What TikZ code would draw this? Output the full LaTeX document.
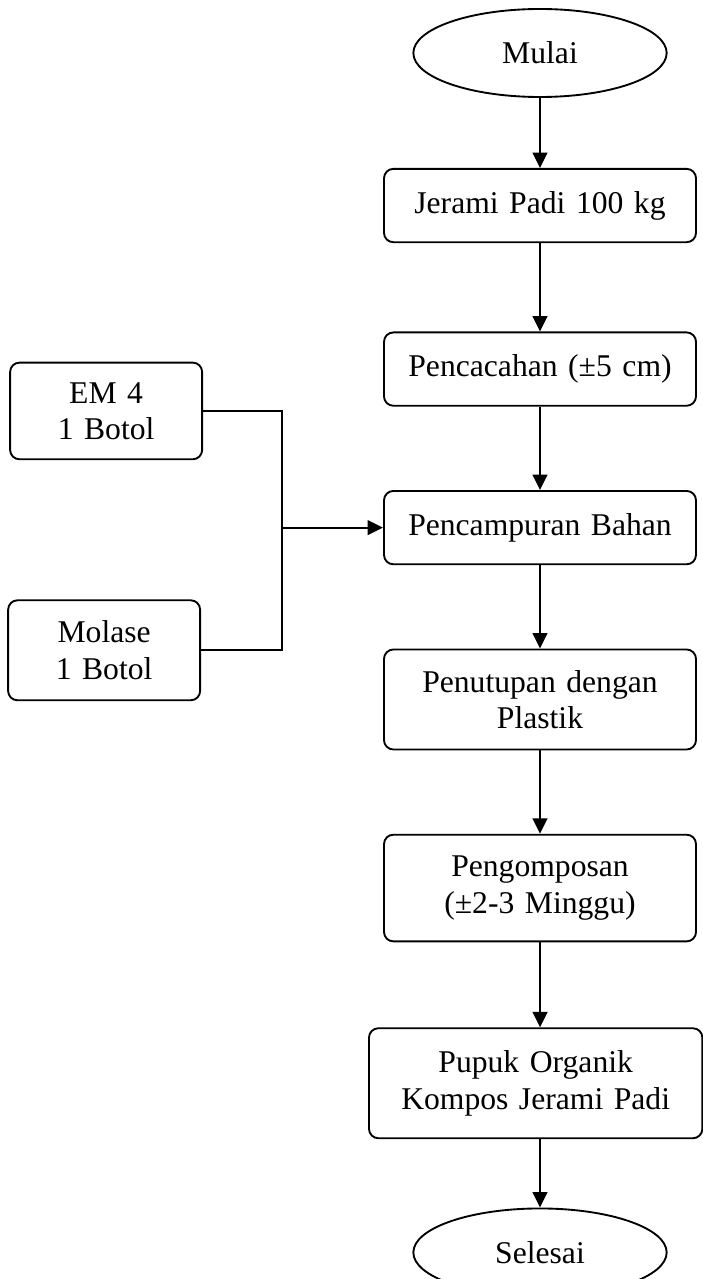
\documentclass[tikz,border=0pt]{standalone}
\usepackage{fontspec}
\setmainfont{Liberation Serif}
\usetikzlibrary{arrows.meta,positioning,shapes.geometric}
\tikzset{
  block/.style={
    rectangle,
    rounded corners=8pt,
    draw=black,
    line width=1.6pt,
    fill=white,
    align=center,
    inner sep=0pt,
    minimum height=2.2cm,
    minimum width=9.36cm,
    text width=9cm,
    font=\fontsize{27}{31}\selectfont
  },
  tallblock/.style={
    block,
    minimum height=3.2cm
  },
  wideblock/.style={
    tallblock,
    minimum height=3.3cm,
    minimum width=10cm,
    text width=9.6cm
  },
  sideblock/.style={
    block,
    minimum width=5.76cm,
    text width=5.4cm,
    minimum height=2.9cm
  },
  terminal/.style={
    ellipse,
    draw=black,
    line width=1.6pt,
    inner sep=0pt,
    minimum width=7.6cm,
    minimum height=2.64cm,
    font=\fontsize{27}{31}\selectfont
  },
  arrow/.style={
    -{Triangle[length=4.6mm,width=4.4mm]},
    line width=1.8pt,
    draw=black
  },
  link/.style={
    line width=1.8pt,
    draw=black
  }
}

\begin{document}
\begin{tikzpicture}[node distance=2.5cm]
  \useasboundingbox (0,0) rectangle (21.06,-38.37);

  \node[terminal] (mulai) at (16.2,-1.59) {Mulai};
  \node[block, below=2.1cm of mulai] (jerami) {Jerami Padi 100 kg};
  \node[block, below=2.65cm of jerami] (cacah) {Pencacahan (±5 cm)};
  \node[block, below=of cacah] (campur) {Pencampuran Bahan};
  \node[tallblock, minimum height=3cm, below=of campur] (tutup) {Penutupan dengan\\Plastik};
  \node[tallblock, below=of tutup] (kompos) {Pengomposan\\(±2-3 Minggu)};
  \node[wideblock, below=2.55cm of kompos, xshift=-0.13cm] (pupuk) {Pupuk Organik\\Kompos Jerami Padi};
  \node[terminal, below=2.05cm of pupuk.south, xshift=0.13cm, anchor=north] (selesai) {Selesai};

  \node[sideblock, left=5.4cm of campur, yshift=3.5cm] (em) {EM 4\\1 Botol};
  \node[sideblock, left=5.46cm of campur, yshift=-3.68cm, minimum height=3cm] (molase) {Molase\\1 Botol};
  \coordinate[left=3.03cm of campur.west] (gabung);

  \draw[arrow] (mulai) -- (jerami);
  \draw[arrow] (jerami) -- (cacah);
  \draw[arrow] (cacah) -- (campur);
  \draw[arrow] (campur) -- (tutup);
  \draw[arrow] (tutup) -- (kompos);
  \draw[arrow] (kompos) -- (kompos |- pupuk.north);
  \draw[arrow] (pupuk.south -| selesai) -- (selesai);

  \draw[link] (em.east) -| (gabung);
  \draw[link] (molase.east) -| (gabung);
  \draw[arrow] (gabung) -- (campur);
\end{tikzpicture}
\end{document}
